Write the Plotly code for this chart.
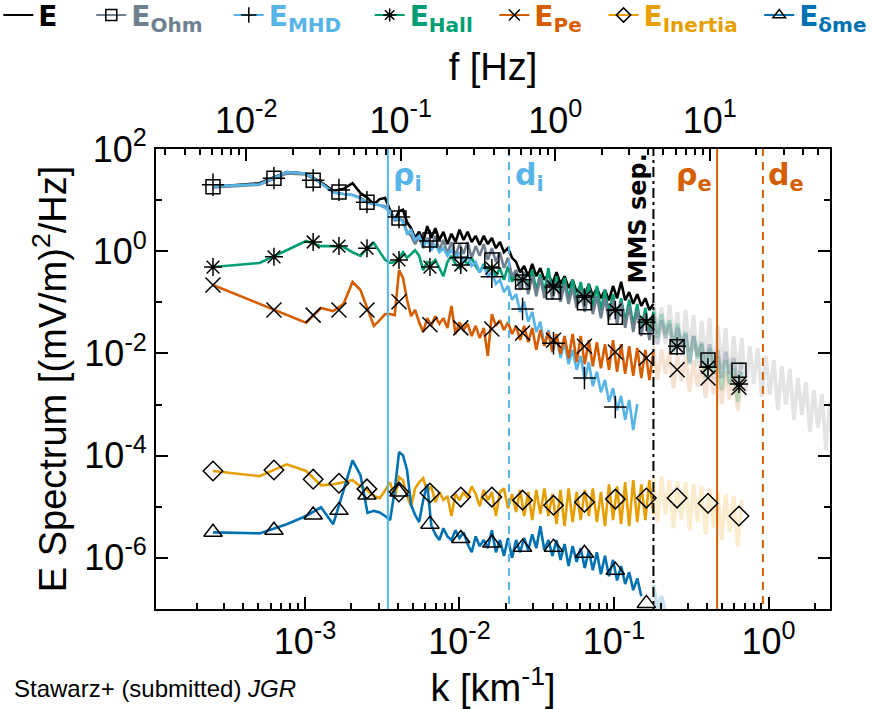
import numpy as np
import plotly.graph_objects as go

# ---------------------------------------------------------------- data
# wavenumber grids [km^-1]
k_bins = 2.54e-4 * np.arange(1, 17)           # lowest FFT bins
k_mid = np.geomspace(4.31e-3, 0.180, 63)       # up to the MMS separation scale
k_hi = np.geomspace(0.180, 2.5, 45)            # beyond the separation scale

# bin-averaged marker positions
k_mark = [2.54e-4, 6.30e-4, 1.13e-3, 1.66e-3, 2.52e-3, 4.06e-3, 6.44e-3,
          1.02e-2, 1.62e-2, 2.56e-2, 4.06e-2, 6.44e-2, 0.102, 0.162,
          0.256, 0.406, 0.644]

# spectra, log10 of (mV/m)^2/Hz
E_low = [1.26, 1.33, 1.55, 1.52, 1.35, 1.18, 1.22, 1.33, 1.14, 1.04, 0.92, 1.02, 1.04, 0.80, 0.62, 0.78]
E_mid = [0.81, 0.57, 0.45, 0.26, 0.38, 0.18, 0.49, 0.26, 0.45, 0.22,
         0.38, 0.14, 0.34, 0.18, 0.42, 0.22, 0.38, 0.18, 0.30, 0.12,
         0.30, 0.14, 0.26, 0.06, 0.18, -0.02, 0.06, -0.13, -0.21, -0.41,
         -0.29, -0.49, -0.25, -0.49, -0.33, -0.56, -0.45, -0.64, -0.41, -0.64,
         -0.49, -0.72, -0.56, -0.80, -0.68, -0.88, -0.64, -0.88, -0.72, -0.92,
         -0.76, -0.96, -0.68, -0.92, -0.60, -0.96, -0.80, -1.03, -0.84, -1.07,
         -0.92, -1.15, -1.03]
E_hi = [-0.99, -1.62, -1.10, -1.82, -1.05, -1.70, -1.19, -2.05, -1.15, -1.95,
        -1.25, -2.25, -1.36, -2.10, -1.31, -2.50, -1.46, -2.30, -1.50, -2.60,
        -1.66, -2.45, -1.70, -2.75, -1.86, -2.60, -1.90, -2.85, -2.05, -2.80,
        -2.13, -3.11, -2.25, -3.00, -2.30, -3.30, -2.48, -3.20, -2.56, -3.54,
        -2.72, -3.45, -2.80, -3.89, -2.95]

ohm_low = [1.25, 1.30, 1.52, 1.50, 1.33, 1.15, 1.12, 1.10, 1.05, 0.95, 0.92, 0.90, 0.88, 0.75, 0.60, 0.62]
ohm_mid = [0.61, 0.38, 0.30, 0.14, 0.30, 0.06, 0.26, 0.10, 0.30, 0.02,
           0.22, -0.05, 0.18, -0.09, 0.14, -0.05, 0.18, -0.13, 0.10, -0.09,
           0.14, -0.17, 0.06, -0.21, -0.02, -0.33, -0.13, -0.49, -0.37, -0.76,
           -0.41, -0.84, -0.49, -0.88, -0.52, -0.92, -0.56, -0.95, -0.60, -0.99,
           -0.64, -1.03, -0.72, -1.11, -0.76, -1.19, -0.80, -1.23, -0.88, -1.31,
           -0.92, -1.35, -0.95, -1.43, -0.99, -1.50, -1.07, -1.58, -1.15, -1.66,
           -1.23, -1.74, -1.31]
ohm_hi = [-1.27, -1.82, -1.35, -1.70, -1.42, -1.97, -1.50, -1.90, -1.62, -2.17,
          -1.66, -2.05, -1.78, -2.32, -1.82, -2.25, -1.93, -2.48, -1.97, -2.40,
          -2.09, -2.68, -2.17]

mhd_low = [1.27, 1.31, 1.55, 1.52, 1.33, 1.15, 1.12, 1.10, 1.03, 0.95, 0.93, 0.90, 0.85, 0.78, 0.62, 0.65]
mhd_mid = [0.57, 0.34, 0.41, 0.22, 0.30, 0.10, 0.22, 0.02, 0.14, -0.02,
           0.06, -0.09, 0.02, -0.13, -0.02, -0.21, -0.09, -0.29, -0.21, -0.41,
           -0.29, -0.49, -0.41, -0.64, -0.56, -0.80, -0.68, -0.95, -0.84, -1.19,
           -0.99, -1.38, -1.19, -1.58, -1.38, -1.85, -1.54, -1.97, -1.66, -2.09,
           -1.78, -2.21, -1.93, -2.32, -2.05, -2.52, -2.17, -2.64, -2.36, -2.76,
           -2.52, -2.95, -2.68, -3.11, -2.83, -3.30, -2.91, -3.50, -2.99]

hall_low = [-0.31, -0.23, 0.02, 0.20, 0.10, 0.10, 0.08, -0.02, -0.09, 0.06, 0.16, -0.02, -0.17, -0.23, -0.21, -0.13]
hall_mid = [-0.02, -0.13, -0.05, 0.02, -0.09, -0.37, -0.21, -0.25, -0.17, -0.33,
            -0.49, -0.21, -0.09, -0.25, -0.33, -0.17, -0.25, -0.13, -0.29, -0.41,
            -0.25, -0.37, -0.29, -0.49, -0.33, -0.56, -0.29, -0.60, -0.37, -0.68,
            -0.41, -0.72, -0.37, -0.76, -0.45, -0.80, -0.33, -0.84, -0.49, -0.88,
            -0.52, -0.92, -0.56, -0.99, -0.60, -1.03, -0.64, -1.11, -0.68, -1.15,
            -0.76, -1.23, -0.84, -1.31, -0.92, -1.38, -0.95, -1.46, -1.03, -1.54,
            -1.11, -1.62, -1.19]
hall_hi = [-1.11, -1.70, -1.23, -1.62, -1.35, -1.93, -1.42, -1.85, -1.58, -2.21,
           -1.66, -2.10, -1.82, -2.48, -1.90, -2.40, -2.05, -2.72, -2.13, -2.60,
           -2.29, -2.95, -2.36]

pe_low = [-0.66, -1.03, -1.25, -1.40, -1.11, -1.17, -1.03, -0.60, -0.76, -1.15, -1.46, -1.35, -1.23, -1.23, -1.25, -0.37]
pe_mid = [-0.52, -0.95, -1.27, -1.15, -1.39, -1.58, -1.31, -1.46, -1.27, -1.42,
          -1.31, -1.50, -1.07, -1.62, -1.39, -1.54, -1.42, -1.66, -1.46, -1.70,
          -1.50, -2.05, -1.23, -1.46, -1.35, -1.54, -1.39, -1.62, -1.46, -1.74,
          -1.46, -1.78, -1.50, -1.93, -1.54, -1.85, -1.58, -1.97, -1.62, -2.01,
          -1.66, -2.09, -1.62, -2.17, -1.66, -2.21, -1.74, -2.25, -1.78, -2.29,
          -1.82, -2.32, -1.74, -2.36, -1.82, -2.40, -1.86, -2.44, -1.89, -2.48,
          -1.93, -2.52, -1.97]
pe_hi = [-1.86, -2.52, -1.93, -2.40, -1.97, -2.68, -2.05, -2.55, -2.05, -2.75,
         -2.13, -2.65, -2.17, -2.87, -2.25, -2.80, -2.29, -2.99, -2.36, -2.90,
         -2.40, -3.11, -2.48]

inert_low = [-4.30, -4.40, -4.17, -4.30, -4.58, -4.56, -4.52, -4.48, -4.60, -4.68, -4.79, -4.83, -4.68, -4.52, -4.83, -4.42]
inert_mid = [-4.48, -4.79, -4.99, -4.64, -4.52, -4.44, -4.71, -4.60, -4.91, -4.71,
             -4.87, -4.79, -5.18, -4.75, -4.87, -4.71, -4.83, -4.60, -4.75, -4.99,
             -4.67, -4.87, -4.71, -5.18, -4.71, -4.64, -5.03, -4.75, -5.10, -4.67,
             -5.18, -4.71, -5.26, -4.67, -5.14, -4.64, -5.18, -4.75, -5.34, -4.67,
             -5.38, -4.64, -5.30, -4.71, -5.26, -4.67, -5.18, -4.64, -5.30, -4.71,
             -5.38, -4.56, -5.26, -4.60, -5.34, -4.52, -5.38, -4.48, -5.30, -4.56,
             -5.26, -4.48, -5.14]
inert_hi = [-4.44, -5.30, -4.40, -5.15, -4.48, -5.42, -4.50, -5.25, -4.52, -5.46,
            -4.55, -5.30, -4.60, -5.54, -4.64, -5.40, -4.71, -5.65, -4.75, -5.50,
            -4.79, -5.77, -4.87]

dme_low = [-5.50, -5.52, -5.34, -5.18, -5.01, -5.34, -4.68, -4.09, -4.38, -5.12, -5.08, -5.11, -5.18, -5.26, -4.68, -3.93]
dme_mid = [-3.99, -4.28, -4.96, -5.16, -5.30, -4.87, -4.56, -5.36, -5.54, -5.65,
           -5.42, -5.58, -5.65, -5.46, -5.61, -5.50, -5.73, -5.89, -5.58, -5.77,
           -5.65, -5.81, -5.46, -5.89, -5.65, -5.96, -5.61, -6.00, -5.65, -5.89,
           -5.61, -5.85, -5.54, -5.81, -5.38, -5.85, -5.65, -5.96, -5.65, -6.04,
           -5.73, -6.16, -5.77, -6.08, -5.81, -6.20, -5.85, -6.24, -5.89, -6.32,
           -5.96, -6.36, -6.04, -6.44, -6.16, -6.51, -6.28, -6.63, -6.40, -6.75]
dme_hi = [-6.53, -6.99, -6.75, -7.06]

# bin-averaged marker values (log10)
ohm_mark = [1.26, 1.43, 1.39, 1.16, 0.96, 0.65, 0.22, 0.02, -0.17, -0.60, -0.80, -1.01, -1.29, -1.48, -1.87, -2.13, -2.33]
mhd_mark = [1.30, 1.43, 1.39, 1.20, 0.96, 0.67, 0.20, -0.13, -0.50, -1.13, -1.80, -2.48, -3.05]
hall_mark = [-0.31, -0.11, 0.18, 0.10, 0.06, -0.17, -0.31, -0.27, -0.33, -0.56, -0.70, -0.90, -1.15, -1.39, -1.86, -2.27, -2.60]
pe_mark = [-0.66, -1.15, -1.25, -1.15, -1.15, -0.99, -1.44, -1.50, -1.52, -1.60, -1.74, -1.86, -1.97, -2.09, -2.32, -2.48, -2.66]
inert_mark = [-4.30, -4.28, -4.46, -4.54, -4.65, -4.71, -4.73, -4.81, -4.81, -4.87, -4.97, -4.91, -4.85, -4.83, -4.83, -4.93, -5.18]
dme_mark = [-5.50, -5.46, -5.16, -5.07, -4.77, -4.71, -5.34, -5.62, -5.71, -5.79, -5.79, -5.91, -6.24, -6.89]

# characteristic scales [km^-1]
k_rho_i, k_d_i, k_sep, k_rho_e, k_d_e = 3.44e-3, 2.09e-2, 0.180, 0.465, 0.92
# k -> f conversion (f = k * V / 2pi), log10 offset
log_f_per_k = 1.38

# ---------------------------------------------------------------- style
C_E, C_OHM, C_MHD, C_HALL = "#000000", "#708090", "#56b4e9", "#009e73"
C_PE, C_IN, C_DME = "#d55e00", "#e69f00", "#0072b2"
LW = 2.6
LW_FADE = 3.8


def p10(a):
    return 10 ** np.asarray(a, dtype=float)


fig = go.Figure()


def line(k, v, color, width=LW, dash=None):
    fig.add_trace(go.Scatter(x=k, y=p10(v), mode="lines", showlegend=False,
                             hoverinfo="skip",
                             line=dict(color=color, width=width, dash=dash)))


# faded continuations beyond the spacecraft-separation scale
line(k_hi, E_hi, "#e4e4e4", LW_FADE)
line(k_hi[:23], hall_hi, "rgba(0,158,115,0.28)", LW_FADE)
line(k_hi[:23], ohm_hi, "rgba(112,128,144,0.40)", LW_FADE)
line(k_hi[:23], pe_hi, "rgba(213,94,0,0.18)", LW_FADE)
line(k_hi[:23], inert_hi, "rgba(230,159,0,0.20)", LW_FADE)
line(np.r_[k_mid[-1:], k_hi[1:4]], dme_hi, "rgba(0,114,178,0.22)", LW_FADE)

# measured spectra
kk = np.r_[k_bins, k_mid]
line(kk, E_low + E_mid, C_E)
line(kk, hall_low + hall_mid, C_HALL)
line(kk, ohm_low + ohm_mid, C_OHM)
line(kk[:16 + len(mhd_mid)], mhd_low + mhd_mid, C_MHD)
line(kk, pe_low + pe_mid, C_PE)
line(kk, inert_low + inert_mid, C_IN)
line(kk[:16 + len(dme_mid)], dme_low + dme_mid, C_DME)

# characteristic-scale markers
ylim = [1e-8, 1e3]
line([k_rho_i] * 2, np.log10(ylim), C_MHD, 2)
line([k_d_i] * 2, np.log10(ylim), C_MHD, 2, "8px,6px")
line([k_sep] * 2, np.log10(ylim), "black", 2, "10px,4px,3px,4px")
line([k_rho_e] * 2, np.log10(ylim), C_PE, 2)
line([k_d_e] * 2, np.log10(ylim), C_PE, 2, "8px,6px")

# bin-averaged symbols
MK = dict(color="black", width=1.5)
for vals, sym, size in [(ohm_mark, "square-open", 14), (mhd_mark, "cross-thin-open", 16),
                        (hall_mark, "asterisk-open", 15), (pe_mark, "x-thin-open", 15),
                        (inert_mark, "diamond-open", 15), (dme_mark, "triangle-up-open", 16)]:
    fig.add_trace(go.Scatter(x=k_mark[:len(vals)], y=p10(vals), mode="markers",
                             showlegend=False, hoverinfo="skip",
                             marker=dict(symbol=sym, size=size, color="black", line=MK)))

# legend row: one single-entry legend per quantity, spread across the top
legend_items = [
    ("", None, C_E, "lines", -0.234),
    ("Ohm", "square-open", C_OHM, "lines+markers", -0.096),
    ("MHD", "cross-thin-open", C_MHD, "lines+markers", 0.108),
    ("Hall", "asterisk-open", C_HALL, "lines+markers", 0.317),
    ("Pe", "x-thin-open", C_PE, "lines+markers", 0.502),
    ("Inertia", "diamond-open", C_IN, "lines+markers", 0.664),
    ("δme", "triangle-up-open", C_DME, "lines+markers", 0.895),
]
legend_layout = {}
for i, (sub, sym, col, mode, lx) in enumerate(legend_items):
    key = "legend" if i == 0 else f"legend{i + 1}"
    label = (f'E<sub><span style="font-size:20px">{sub}</span></sub>' if sub else "E")
    fig.add_trace(go.Scatter(
        x=[None], y=[None], mode=mode, legend=key,
        name=f'<span style="color:{col}"><b>{label}</b></span>',
        line=dict(color=col, width=2),
        marker=dict(symbol=sym or "circle", size=11, color="black", line=MK)))
    legend_layout[key] = dict(orientation="h", x=lx, y=1.345, xanchor="left", yanchor="top",
                              font=dict(family="DejaVu Sans", size=28),
                              bgcolor="rgba(0,0,0,0)", itemwidth=30)

# ---------------------------------------------------------------- axes
TICKF = dict(family="Liberation Sans, Arial, sans-serif", size=36, color="black")
TITLEF = dict(family="Liberation Sans, Arial, sans-serif", size=38, color="black")
sup = lambda p: f"10<sup>{p}</sup>"

x_range = [-3.964, 0.398]
k_major = [1e-3, 1e-2, 1e-1, 1e0]
k_minor = [m * 10.0 ** d for d in range(-4, 1) for m in range(2, 10)]
f_major = [1e-2, 1e-1, 1e0, 1e1]
f_minor = [m * 10.0 ** d for d in range(-3, 2) for m in range(2, 10)]

axis_common = dict(type="log", showgrid=False, zeroline=False, showline=True,
                   linecolor="black", linewidth=2, ticks="inside", ticklen=12,
                   tickwidth=2, tickcolor="black", tickfont=TICKF)

fig.update_layout(
    width=872, height=709,
    margin=dict(l=156, r=42, t=149, b=100, autoexpand=False),
    paper_bgcolor="white", plot_bgcolor="white",
    xaxis=dict(**axis_common, range=x_range, tickmode="array", tickvals=k_major,
               ticktext=[sup(-3), sup(-2), sup(-1), sup(0)],
               minor=dict(tickmode="array", tickvals=k_minor, ticks="inside",
                          ticklen=6, tickwidth=1.5, tickcolor="black"),
               title=dict(text="k [km<sup>-1</sup>]", font=TITLEF, standoff=4)),
    xaxis2=dict(**axis_common, overlaying="x", side="top", anchor="y",
                range=[x_range[0] + log_f_per_k, x_range[1] + log_f_per_k],
                tickmode="array", tickvals=f_major,
                ticktext=[sup(-2), sup(-1), sup(0), sup(1)],
                minor=dict(tickmode="array", tickvals=f_minor, ticks="inside",
                           ticklen=6, tickwidth=1.5, tickcolor="black"),
                title=dict(text="f [Hz]", font=TITLEF, standoff=2)),
    yaxis=dict(**axis_common, range=[-7, 2], mirror="ticks", tickmode="array",
               tickvals=[1e2, 1e0, 1e-2, 1e-4, 1e-6],
               ticktext=[sup(2), sup(0), sup(-2), sup(-4), sup(-6)],
               minor=dict(tickmode="array", tickvals=[1e1, 1e-1, 1e-3, 1e-5, 1e-7],
                          ticks="inside", ticklen=6, tickwidth=1.5, tickcolor="black"),
               title=dict(text="E Spectrum [(mV/m)<sup>2</sup>/Hz]", font=TITLEF, standoff=6)),
    showlegend=True,
    **legend_layout,
)

# invisible trace so the frequency axis is drawn
fig.add_trace(go.Scatter(x=[None], y=[None], xaxis="x2", yaxis="y", showlegend=False))

# scale labels
LBL = dict(family="DejaVu Sans", size=30)
for k, txt, col, anchor, shift in [(k_rho_i, "ρ<sub>i</sub>", C_MHD, "left", 3),
                                   (k_d_i, "d<sub>i</sub>", C_MHD, "left", 4),
                                   (k_rho_e, "ρ<sub>e</sub>", C_PE, "right", -3),
                                   (k_d_e, "d<sub>e</sub>", C_PE, "left", 3)]:
    fig.add_annotation(x=np.log10(k), y=0.94, xref="x", yref="paper", text=f"<b>{txt}</b>",
                       showarrow=False, xanchor=anchor, yanchor="middle", xshift=shift,
                       font=dict(LBL, color=col))
fig.add_annotation(x=np.log10(k_sep), y=0.85, xref="x", yref="paper", text="<b>MMS sep.</b>",
                   textangle=-90, showarrow=False, xanchor="center", yanchor="middle",
                   xshift=-15, font=dict(family="DejaVu Sans", size=24, color="black"))
fig.add_annotation(x=-0.214, y=-0.172, xref="paper", yref="paper",
                   text="Stawarz+ (submitted) <i>JGR</i>", showarrow=False,
                   xanchor="left", yanchor="middle",
                   font=dict(family="Liberation Sans, Arial, sans-serif", size=24, color="black"))

fig.write_html("out.html")
